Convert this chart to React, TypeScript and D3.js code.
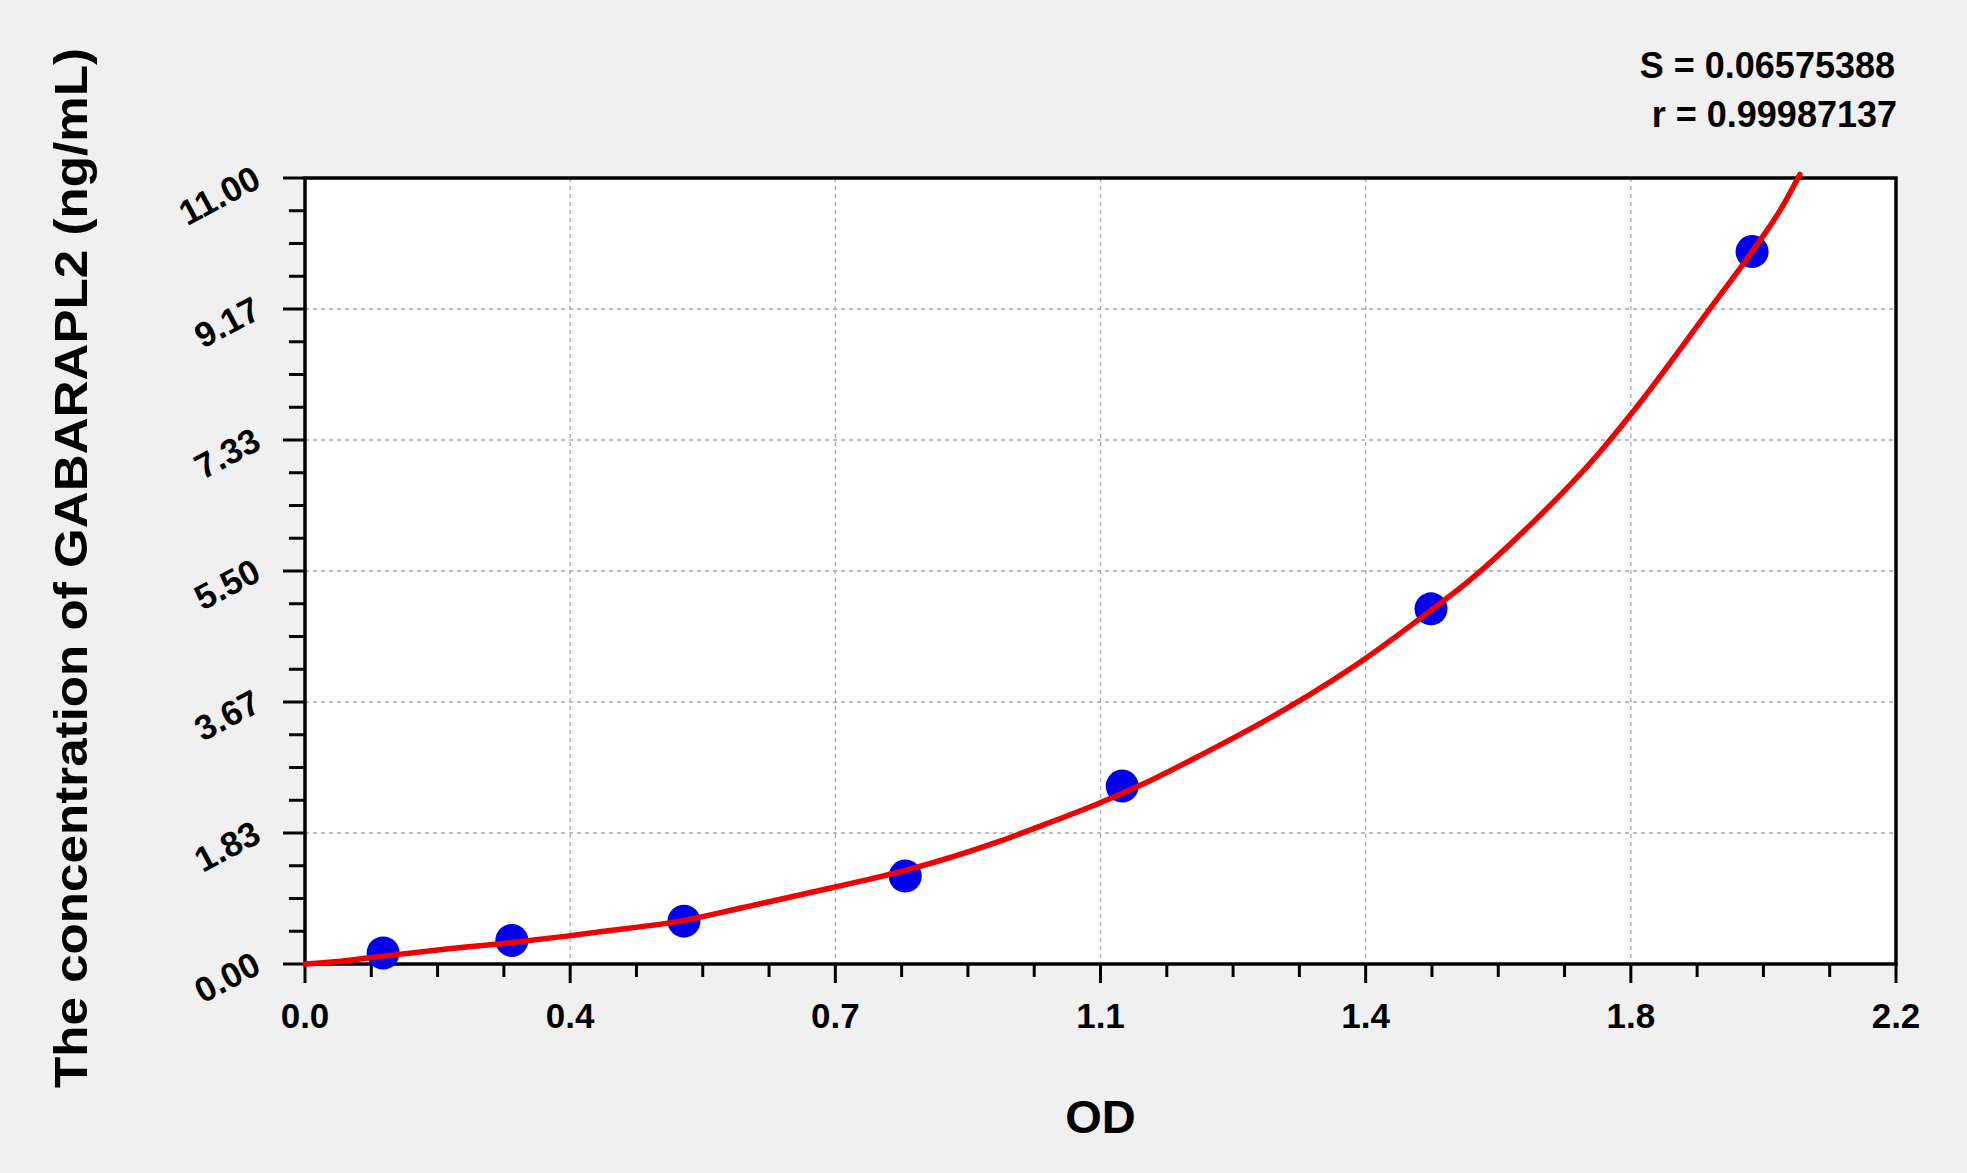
import React from "react";
import * as d3 from "d3";

const pointOD = [0.108, 0.286, 0.524, 0.830, 1.130, 1.557, 2.001];
const pointConc = [0.154, 0.33, 0.60, 1.23, 2.49, 4.97, 9.97];

const curveOD = [0, 0.05, 0.108, 0.187, 0.286, 0.362, 0.408, 0.524, 0.606, 0.73, 0.83, 0.961, 1.03, 1.098, 1.155, 1.238, 1.358, 1.467, 1.557, 1.607, 1.698, 1.791, 1.834, 1.939, 2.001, 2.044, 2.067];
const curveConc = [0, 0.04, 0.11, 0.2, 0.3, 0.39, 0.45, 0.61, 0.79, 1.07, 1.31, 1.72, 1.98, 2.25, 2.5, 2.92, 3.58, 4.28, 4.95, 5.34, 6.18, 7.17, 7.7, 9.12, 9.97, 10.62, 11.05];

const xTickLabels = ["0.0", "0.4", "0.7", "1.1", "1.4", "1.8", "2.2"];
const yTickLabels = ["0.00", "1.83", "3.67", "5.50", "7.33", "9.17", "11.00"];

const statS = "S = 0.06575388";
const statR = "r = 0.99987137";
const xTitle = "OD";
const yTitle = "The concentration of GABARAPL2 (ng/mL)";

const W = 1967;
const H = 1173;
const L = 305, R = 1896, T = 178, B = 964;
const FONT = "'Liberation Sans', Arial, sans-serif";

export default function App() {
  const x = d3.scaleLinear().domain([0, 2.2]).range([L, R]);
  const y = d3.scaleLinear().domain([0, 11]).range([B, T]);
  const xMajor = d3.range(7).map((i) => (i * 2.2) / 6);
  const yMajor = d3.range(7).map((i) => (i * 11) / 6);
  const xMinor = d3.range(25).filter((i) => i % 4 !== 0).map((i) => (i * 2.2) / 24);
  const yMinor = d3.range(25).filter((i) => i % 4 !== 0).map((i) => (i * 11) / 24);

  const curve = curveOD.map((v, i) => [v, curveConc[i]] as [number, number]);
  const line = d3
    .line<[number, number]>()
    .x((d) => x(d[0]))
    .y((d) => y(d[1]))
    .curve(d3.curveMonotoneX);

  return (
    <svg width={W} height={H} style={{ position: "absolute", left: 0, top: 0, background: "#f0f0f0" }}>
      <rect x={0} y={0} width={W} height={H} fill="#f0f0f0" />
      <rect x={L} y={T} width={R - L} height={B - T} fill="#ffffff" />
      {xMajor.slice(1, -1).map((v, i) => (
        <line key={"gx" + i} x1={x(v)} x2={x(v)} y1={T} y2={B} stroke="#a8a8a8" strokeWidth={1.3} strokeDasharray="4,4" />
      ))}
      {yMajor.slice(1, -1).map((v, i) => (
        <line key={"gy" + i} x1={L} x2={R} y1={y(v)} y2={y(v)} stroke="#a8a8a8" strokeWidth={1.3} strokeDasharray="4,4" />
      ))}
      <rect x={L} y={T} width={R - L} height={B - T} fill="none" stroke="#000" strokeWidth={3.5} />
      {xMajor.map((v, i) => (
        <line key={"xt" + i} x1={x(v)} x2={x(v)} y1={B} y2={B + 19} stroke="#000" strokeWidth={3} />
      ))}
      {xMinor.map((v, i) => (
        <line key={"xm" + i} x1={x(v)} x2={x(v)} y1={B} y2={B + 13} stroke="#000" strokeWidth={3} />
      ))}
      {yMajor.map((v, i) => (
        <line key={"yt" + i} x1={L - 22} x2={L} y1={y(v)} y2={y(v)} stroke="#000" strokeWidth={3} />
      ))}
      {yMinor.map((v, i) => (
        <line key={"ym" + i} x1={L - 16} x2={L} y1={y(v)} y2={y(v)} stroke="#000" strokeWidth={3} />
      ))}
      {xMajor.map((v, i) => (
        <text key={"xl" + i} x={x(v)} y={1028} textAnchor="middle" fontFamily={FONT} fontWeight="bold" fontSize={35} fill="#000">
          {xTickLabels[i]}
        </text>
      ))}
      {yMajor.map((v, i) => (
        <text
          key={"yl" + i}
          transform={`translate(${L - 42},${y(v) + 8}) rotate(-28)`}
          textAnchor="end"
          fontFamily={FONT}
          fontWeight="bold"
          fontSize={35}
          fill="#000"
        >
          {yTickLabels[i]}
        </text>
      ))}
      {pointOD.map((v, i) => (
        <circle key={"p" + i} cx={x(v)} cy={y(pointConc[i])} r={16.5} fill="#0000ee" />
      ))}
      <path d={line(curve) || ""} fill="none" stroke="#f00000" strokeWidth={5.5} strokeLinejoin="round" strokeLinecap="round" />
      <text x={1895} y={78} textAnchor="end" fontFamily={FONT} fontWeight="bold" fontSize={36} fill="#000">
        {statS}
      </text>
      <text x={1897} y={127} textAnchor="end" fontFamily={FONT} fontWeight="bold" fontSize={36} fill="#000">
        {statR}
      </text>
      <text x={(L + R) / 2} y={1133} textAnchor="middle" fontFamily={FONT} fontWeight="bold" fontSize={47} fill="#000">
        {xTitle}
      </text>
      <text
        transform={`translate(87,568) rotate(-90)`}
        textAnchor="middle"
        fontFamily={FONT}
        fontWeight="bold"
        fontSize={47}
        textLength={1040}
        lengthAdjust="spacingAndGlyphs"
        fill="#000"
      >
        {yTitle}
      </text>
    </svg>
  );
}
